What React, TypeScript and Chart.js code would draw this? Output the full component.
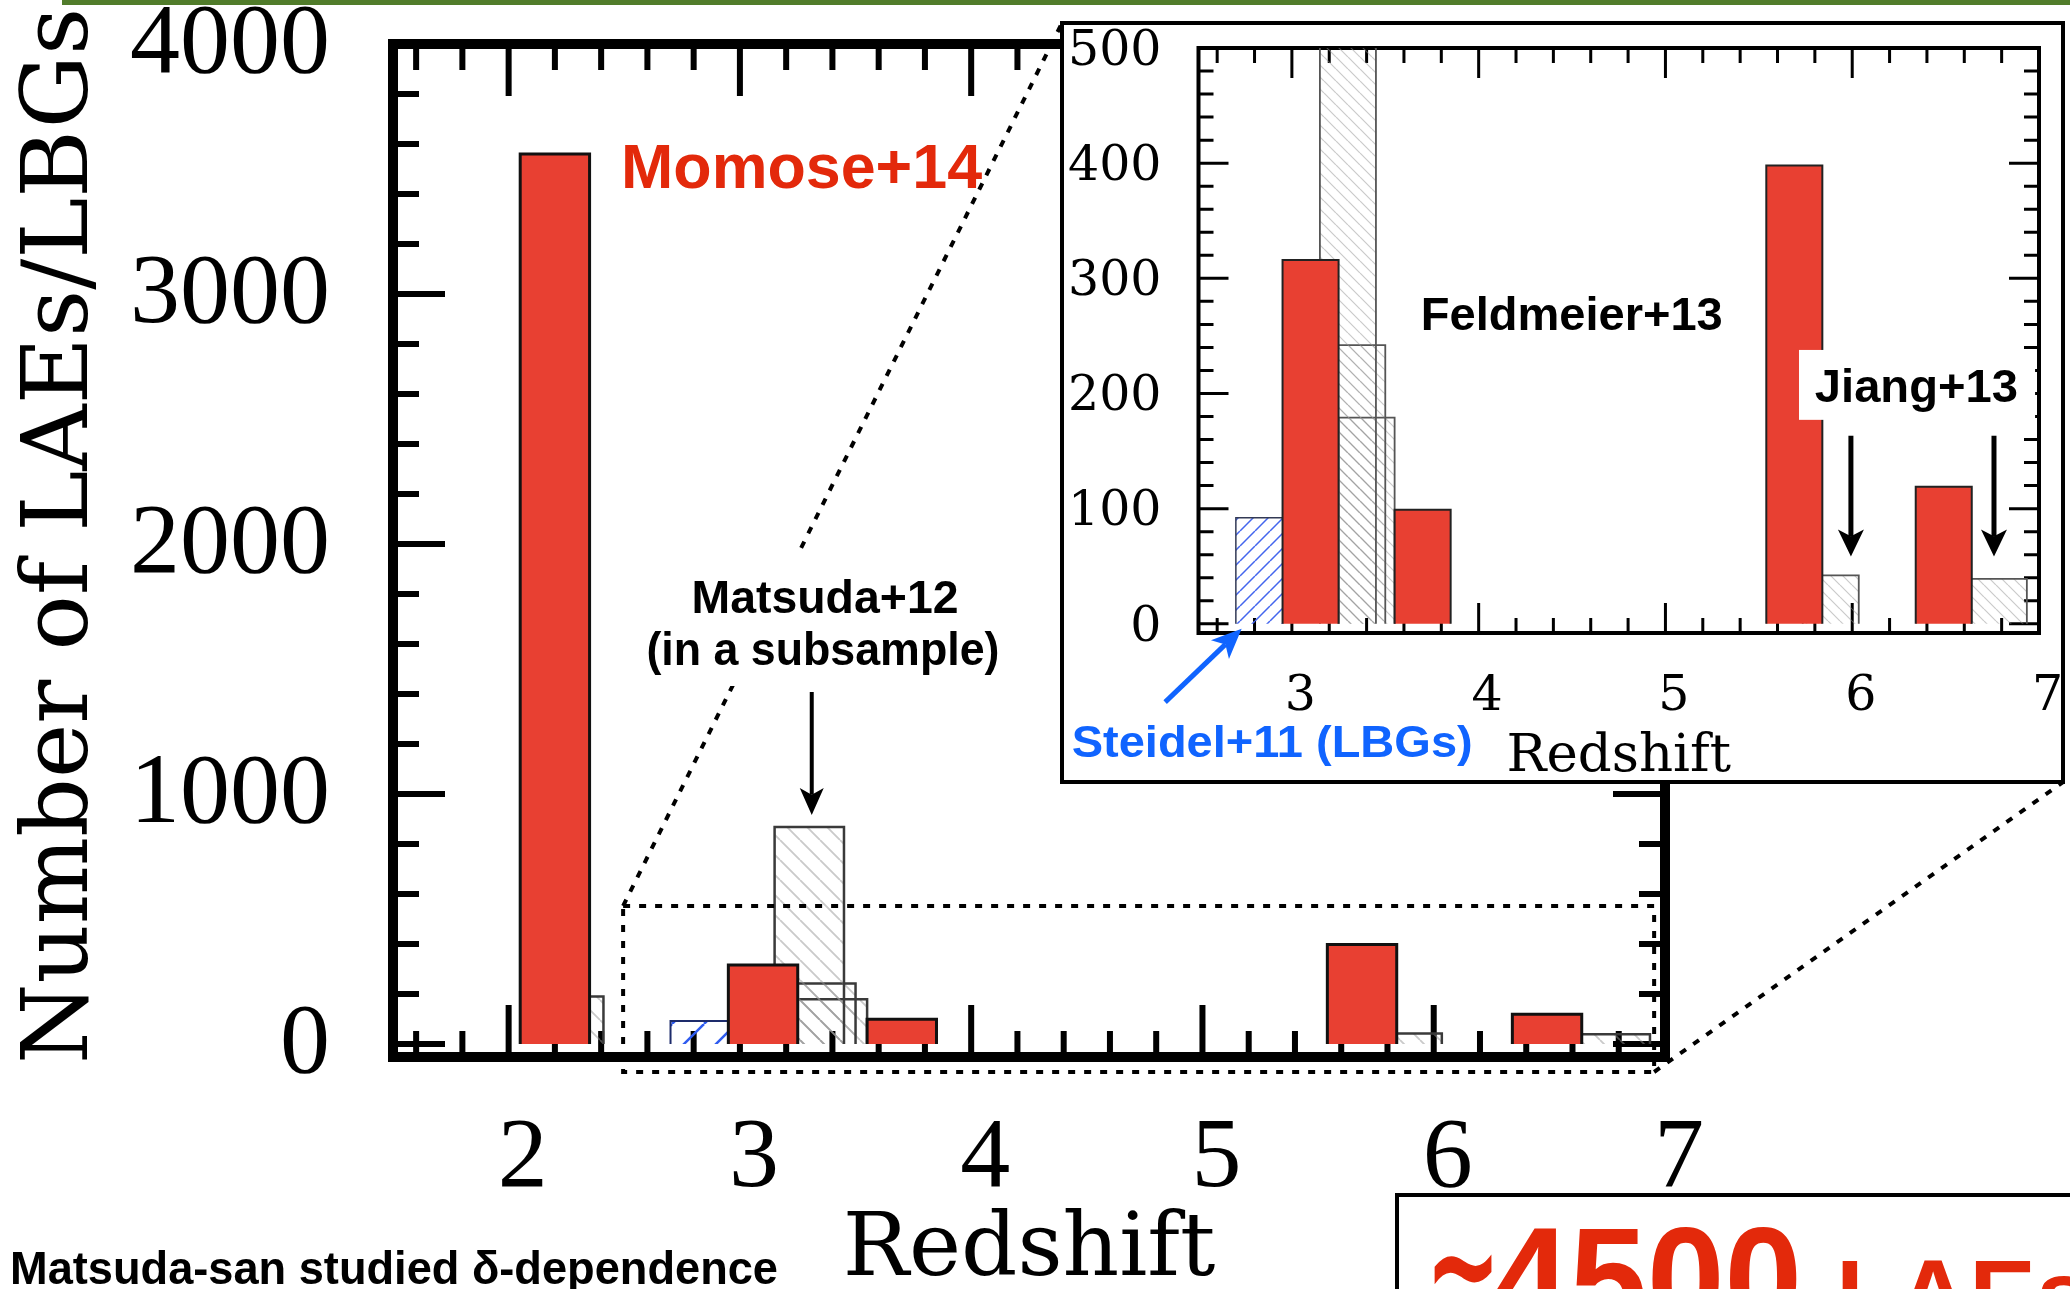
import React, { useEffect, useRef } from "react";
import { Chart, registerables } from "chart.js";
Chart.register(...registerables);

// ---------------- data ----------------
const momoseRedshift = [2.2, 3.1, 3.7, 5.69, 6.49];
const momoseCount = [3560, 316, 99, 398, 119];
const otherRedshift = [2.26, 3.3, 3.35, 3.4, 5.885, 6.785];
const otherCount = [190, 868, 242, 179, 42, 39];
const steidelRedshift = [2.85];
const steidelCount = [92];
const mainXTicks = [2, 3, 4, 5, 6, 7];
const mainYTicks = [0, 1000, 2000, 3000, 4000];
const insetXTicks = [3, 4, 5, 6, 7];
const insetYTicks = [0, 100, 200, 300, 400, 500];
const BIN_WIDTH = 0.3;

// ---------------- layout constants ----------------
const W = 2070;
const H = 1289;
const INSET = { left: 1060, top: 21, width: 1005, height: 763 };
const RED = "#e84032";
const TEXT_RED = "#e3290b";
const BLUE = "#1064ff";
const SANS = '"Liberation Sans", Arial, sans-serif';

function range(start: number, stop: number, step: number) {
  const out: number[] = [];
  const n = Math.round((stop - start) / step);
  for (let i = 0; i <= n; i++) out.push(+(start + i * step).toFixed(4));
  return out;
}

function hatch(target: CanvasRenderingContext2D, color: string, spacing: number, lw: number, dir: string) {
  const c = document.createElement("canvas");
  c.width = spacing;
  c.height = spacing;
  const g = c.getContext("2d")!;
  g.strokeStyle = color;
  g.lineWidth = lw;
  g.beginPath();
  for (let k = -1; k <= 1; k++) {
    if (dir === "\\") {
      g.moveTo(k * spacing, 0);
      g.lineTo(k * spacing + spacing, spacing);
    } else {
      g.moveTo(k * spacing, spacing);
      g.lineTo(k * spacing + spacing, 0);
    }
  }
  g.stroke();
  return target.createPattern(c, "repeat")!;
}

function barDatasets(zs: number[], ns: number[], style: any) {
  return zs.map((z, i) => {
    const a = z - BIN_WIDTH / 2;
    const b = z + BIN_WIDTH / 2;
    return {
      type: "line",
      data: [
        { x: a, y: 0 },
        { x: a, y: ns[i] },
        { x: b, y: ns[i] },
        { x: b, y: 0 },
      ],
      fill: "origin",
      pointRadius: 0,
      pointHoverRadius: 0,
      tension: 0,
      borderJoinStyle: "miter",
      borderCapStyle: "butt",
      ...style,
    };
  });
}

function drawText(
  ctx: CanvasRenderingContext2D,
  text: string,
  x: number,
  y: number,
  font: string,
  color: string,
  width?: number,
  align: string = "left"
) {
  ctx.save();
  ctx.font = font;
  ctx.fillStyle = color;
  ctx.textBaseline = "alphabetic";
  ctx.textAlign = "left";
  const m = ctx.measureText(text).width;
  const s = width ? width / m : 1;
  const w = m * s;
  const left = align === "center" ? x - w / 2 : x;
  ctx.translate(left, y);
  ctx.scale(s, 1);
  ctx.fillText(text, 0, 0);
  ctx.restore();
}

function arrow(
  ctx: CanvasRenderingContext2D,
  x1: number,
  y1: number,
  x2: number,
  y2: number,
  color: string,
  lw: number,
  headLen: number,
  headW: number
) {
  const ang = Math.atan2(y2 - y1, x2 - x1);
  const dx = Math.cos(ang);
  const dy = Math.sin(ang);
  const bx = x2 - headLen * dx;
  const by = y2 - headLen * dy;
  const ix = x2 - headLen * 0.75 * dx;
  const iy = y2 - headLen * 0.75 * dy;
  const nx = -dy;
  const ny = dx;
  ctx.save();
  ctx.strokeStyle = color;
  ctx.fillStyle = color;
  ctx.lineWidth = lw;
  ctx.beginPath();
  ctx.moveTo(x1, y1);
  ctx.lineTo(ix, iy);
  ctx.stroke();
  ctx.beginPath();
  ctx.moveTo(x2, y2);
  ctx.lineTo(bx + (nx * headW) / 2, by + (ny * headW) / 2);
  ctx.lineTo(ix, iy);
  ctx.lineTo(bx - (nx * headW) / 2, by - (ny * headW) / 2);
  ctx.closePath();
  ctx.fill();
  ctx.restore();
}

function makeFrame(id: string, cfg: any) {
  return {
    id,
    beforeDatasetsDraw(chart: any) {
      const { ctx, chartArea: a, scales } = chart;
      const x = scales.x;
      const y = scales.y;
      const isMajor = (v: number, step: number) => Math.abs(v / step - Math.round(v / step)) < 1e-6;
      ctx.save();
      ctx.strokeStyle = "#000";
      ctx.lineWidth = cfg.tickWidth;
      ctx.lineCap = "butt";
      ctx.beginPath();
      for (const v of cfg.xTicks) {
        const p = x.getPixelForValue(v);
        const len = isMajor(v, cfg.xMajor) ? cfg.major : cfg.minor;
        ctx.moveTo(p, a.bottom);
        ctx.lineTo(p, a.bottom - len);
        ctx.moveTo(p, a.top);
        ctx.lineTo(p, a.top + len);
      }
      for (const v of cfg.yTicks) {
        const p = y.getPixelForValue(v);
        const len = isMajor(v, cfg.yMajor) ? cfg.major : cfg.minor;
        ctx.moveTo(a.left, p);
        ctx.lineTo(a.left + len, p);
        ctx.moveTo(a.right, p);
        ctx.lineTo(a.right - len, p);
      }
      ctx.stroke();
      ctx.lineWidth = cfg.frameWidth;
      ctx.strokeRect(a.left, a.top, a.right - a.left, a.bottom - a.top);
      ctx.restore();
    },
  };
}

const mainNotes = {
  id: "mainNotes",
  afterDraw(chart: any) {
    const { ctx, scales } = chart;
    const px = (v: number) => scales.x.getPixelForValue(v);
    const py = (v: number) => scales.y.getPixelForValue(v);
    ctx.save();
    // green rule at the top of the slide
    ctx.fillStyle = "#517c2b";
    ctx.fillRect(62, 0, W - 62, 5);

    // dotted zoom box and connectors
    const rx0 = px(2.495);
    const rx1 = px(6.953);
    const ry0 = py(552);
    const ry1 = py(-112);
    ctx.strokeStyle = "#000";
    ctx.lineWidth = 4;
    ctx.setLineDash([7, 9]);
    ctx.strokeRect(rx0, ry0, rx1 - rx0, ry1 - ry0);
    ctx.beginPath();
    ctx.moveTo(rx0, ry0);
    ctx.lineTo(INSET.left + 2, INSET.top + 2);
    ctx.moveTo(rx1, ry1);
    ctx.lineTo(INSET.left + INSET.width - 2, INSET.top + INSET.height - 2);
    ctx.stroke();
    ctx.setLineDash([]);

    // Momose label
    drawText(ctx, "Momose+14", px(2.486), py(3426), `bold 63px ${SANS}`, TEXT_RED, 361);

    // Matsuda label with white backing
    ctx.fillStyle = "#fff";
    ctx.fillRect(px(2.568), py(1956), px(4.147) - px(2.568), py(1432) - py(1956));
    drawText(ctx, "Matsuda+12", px(3.368), py(1724), `bold 46px ${SANS}`, "#000", 267, "center");
    drawText(ctx, "(in a subsample)", px(3.359), py(1516), `bold 46px ${SANS}`, "#000", 353, "center");
    arrow(ctx, px(3.3106), py(1408), px(3.3106), py(916), "#000", 4, 27, 24);

    // footer note
    drawText(ctx, "Matsuda-san studied δ-dependence", 10, 1284, `bold 46px ${SANS}`, "#000", 768);

    // bottom-right call-out box
    ctx.strokeStyle = "#000";
    ctx.lineWidth = 4;
    ctx.strokeRect(1397, 1195, 900, 300);
    drawText(ctx, "≃", 1425, 1330, `bold 146px "DejaVu Sans", ${SANS}`, TEXT_RED, 76);
    drawText(ctx, "4500", 1492, 1330, `bold 146px ${SANS}`, TEXT_RED, 310);
    drawText(ctx, "LAEs", 1836, 1330, `bold 100px ${SANS}`, TEXT_RED);
    ctx.restore();
  },
};

const insetNotes = {
  id: "insetNotes",
  afterDraw(chart: any) {
    const { ctx, scales } = chart;
    const px = (v: number) => scales.x.getPixelForValue(v);
    const py = (v: number) => scales.y.getPixelForValue(v);
    ctx.save();
    // outer box
    ctx.strokeStyle = "#000";
    ctx.lineWidth = 4;
    ctx.strokeRect(2, 2, INSET.width - 4, INSET.height - 4);

    drawText(ctx, "Feldmeier+13", px(3.69), py(255.2), `bold 47px ${SANS}`, "#000", 302);

    ctx.fillStyle = "#fff";
    ctx.fillRect(px(5.715), py(237.8), px(6.979) - px(5.715), py(177.1) - py(237.8));
    drawText(ctx, "Jiang+13", px(5.8), py(193), `bold 47px ${SANS}`, "#000", 203);
    arrow(ctx, px(5.993), py(163.3), px(5.993), py(58.4), "#000", 5, 27, 26);
    arrow(ctx, px(6.759), py(163.3), px(6.759), py(58.4), "#000", 5, 27, 26);

    drawText(ctx, "Steidel+11 (LBGs)", px(1.821), py(-115.5), `bold 44px ${SANS}`, BLUE, 401);
    arrow(ctx, px(2.3214), py(-68), px(2.731), py(-4.4), BLUE, 5, 30, 26);
    ctx.restore();
  },
};

export default function App() {
  const mainRef = useRef<HTMLCanvasElement>(null);
  const insetRef = useRef<HTMLCanvasElement>(null);

  useEffect(() => {
    document.body.style.margin = "0";
    const mc = mainRef.current!;
    const ic = insetRef.current!;
    const mctx = mc.getContext("2d")!;
    const ictx = ic.getContext("2d")!;

    const mainDatasets = [
      ...barDatasets(momoseRedshift, momoseCount, {
        backgroundColor: RED,
        borderColor: "#111",
        borderWidth: 3,
        order: 0,
      }),
      ...barDatasets(steidelRedshift, steidelCount, {
        backgroundColor: hatch(mctx, "#2f5cf0", 32, 2.5, "/"),
        borderColor: "#1d2b6b",
        borderWidth: 2,
        order: 1,
      }),
      ...barDatasets(otherRedshift, otherCount, {
        backgroundColor: hatch(mctx, "rgba(150,150,150,0.5)", 20, 1.8, "\\"),
        borderColor: "#3a3a3a",
        borderWidth: 2.5,
        order: 2,
      }),
    ];

    const insetDatasets = [
      ...barDatasets(momoseRedshift, momoseCount, {
        backgroundColor: RED,
        borderColor: "#222",
        borderWidth: 2,
        order: 0,
      }),
      ...barDatasets(steidelRedshift, steidelCount, {
        backgroundColor: hatch(ictx, "#4466ee", 15, 1.5, "/"),
        borderColor: "#333a55",
        borderWidth: 1.5,
        order: 1,
      }),
      ...barDatasets(otherRedshift, otherCount, {
        backgroundColor: hatch(ictx, "rgba(150,150,150,0.5)", 12, 1.2, "\\"),
        borderColor: "#555",
        borderWidth: 1.8,
        order: 2,
      }),
    ];

    const fixPadding = (s: any) => {
      s.paddingTop = 0;
      s.paddingBottom = 0;
      s.paddingLeft = 0;
      s.paddingRight = 0;
    };

    const main = new Chart(mc, {
      type: "line",
      data: { datasets: mainDatasets as any },
      options: {
        responsive: false,
        animation: false,
        devicePixelRatio: 1,
        events: [],
        layout: { autoPadding: false, padding: { left: 0, top: 44, right: W - 1665, bottom: 0 } },
        plugins: { legend: { display: false }, tooltip: { enabled: false } },
        scales: {
          x: {
            type: "linear",
            min: 1.5,
            max: 7,
            grid: { display: false, drawTicks: false },
            border: { display: false },
            afterBuildTicks: (s: any) => {
              s.ticks = mainXTicks.map((v) => ({ value: v }));
            },
            afterFit: (s: any) => {
              s.height = H - 1057;
              fixPadding(s);
            },
            ticks: {
              autoSkip: false,
              maxRotation: 0,
              minRotation: 0,
              color: "#000",
              padding: 43,
              labelOffset: 14,
              font: { family: '"Liberation Serif", serif', size: 100, lineHeight: 1.2 },
              callback: (v: any) => String(v),
            },
            title: {
              display: true,
              text: "Redshift",
              color: "#000",
              font: { family: '"DejaVu Serif", serif', size: 88, lineHeight: 0.6 },
              padding: { top: 0, bottom: 10 },
            },
          },
          y: {
            type: "linear",
            min: -52,
            max: 4000,
            grid: { display: false, drawTicks: false },
            border: { display: false },
            afterBuildTicks: (s: any) => {
              s.ticks = mainYTicks.map((v) => ({ value: v }));
            },
            afterFit: (s: any) => {
              s.width = 393;
              fixPadding(s);
            },
            ticks: {
              autoSkip: false,
              color: "#000",
              padding: 63,
              labelOffset: 2,
              font: { family: '"Liberation Serif", serif', size: 100, lineHeight: 1.2 },
              callback: (v: any) => String(v),
            },
            title: {
              display: true,
              text: " Number of LAEs/LBGs",
              color: "#000",
              font: { family: '"DejaVu Serif", serif', size: 92, lineHeight: 1 },
              padding: { top: 17, bottom: 0 },
            },
          },
        },
      },
      plugins: [
        makeFrame("mainFrame", {
          xTicks: range(1.6, 6.8, 0.2),
          yTicks: range(0, 3800, 200),
          xMajor: 1,
          yMajor: 1000,
          minor: 26,
          major: 52,
          tickWidth: 6,
          frameWidth: 10,
        }),
        mainNotes,
      ],
    } as any);

    const inset = new Chart(ic, {
      type: "line",
      data: { datasets: insetDatasets as any },
      options: {
        responsive: false,
        animation: false,
        devicePixelRatio: 1,
        events: [],
        layout: { autoPadding: false, padding: { left: 0, top: 27, right: INSET.width - 979, bottom: 0 } },
        plugins: { legend: { display: false }, tooltip: { enabled: false } },
        scales: {
          x: {
            type: "linear",
            min: 2.5,
            max: 7,
            grid: { display: false, drawTicks: false },
            border: { display: false },
            afterBuildTicks: (s: any) => {
              s.ticks = insetXTicks.map((v) => ({ value: v }));
            },
            afterFit: (s: any) => {
              s.height = INSET.height - 612;
              fixPadding(s);
            },
            ticks: {
              autoSkip: false,
              maxRotation: 0,
              minRotation: 0,
              color: "#000",
              padding: 35,
              labelOffset: 8.5,
              font: { family: '"DejaVu Serif", serif', size: 49, lineHeight: 1.2 },
              callback: (v: any) => String(v),
            },
            title: {
              display: true,
              text: "Redshift",
              color: "#000",
              font: { family: '"DejaVu Serif", serif', size: 53, lineHeight: 0.6 },
              padding: { top: 0, bottom: 11 },
            },
          },
          y: {
            type: "linear",
            min: -8,
            max: 500,
            grid: { display: false, drawTicks: false },
            border: { display: false },
            afterBuildTicks: (s: any) => {
              s.ticks = insetYTicks.map((v) => ({ value: v }));
            },
            afterFit: (s: any) => {
              s.width = 138.5;
              fixPadding(s);
            },
            ticks: {
              autoSkip: false,
              color: "#000",
              padding: 37,
              labelOffset: 4,
              font: { family: '"DejaVu Serif", serif', size: 49, lineHeight: 1.2 },
              callback: (v: any) => String(v),
            },
          },
        },
      },
      plugins: [
        makeFrame("insetFrame", {
          xTicks: range(2.6, 6.8, 0.2),
          yTicks: range(0, 480, 20),
          xMajor: 1,
          yMajor: 100,
          minor: 15,
          major: 30,
          tickWidth: 3,
          frameWidth: 4,
        }),
        insetNotes,
      ],
    } as any);

    return () => {
      main.destroy();
      inset.destroy();
    };
  }, []);

  return (
    <div style={{ position: "relative", width: W, height: H, overflow: "hidden", background: "#fff" }}>
      <canvas ref={mainRef} width={W} height={H} style={{ position: "absolute", left: 0, top: 0 }} />
      <div
        style={{
          position: "absolute",
          left: INSET.left,
          top: INSET.top,
          width: INSET.width,
          height: INSET.height,
          background: "#fff",
        }}
      >
        <canvas ref={insetRef} width={INSET.width} height={INSET.height} style={{ display: "block" }} />
      </div>
    </div>
  );
}
